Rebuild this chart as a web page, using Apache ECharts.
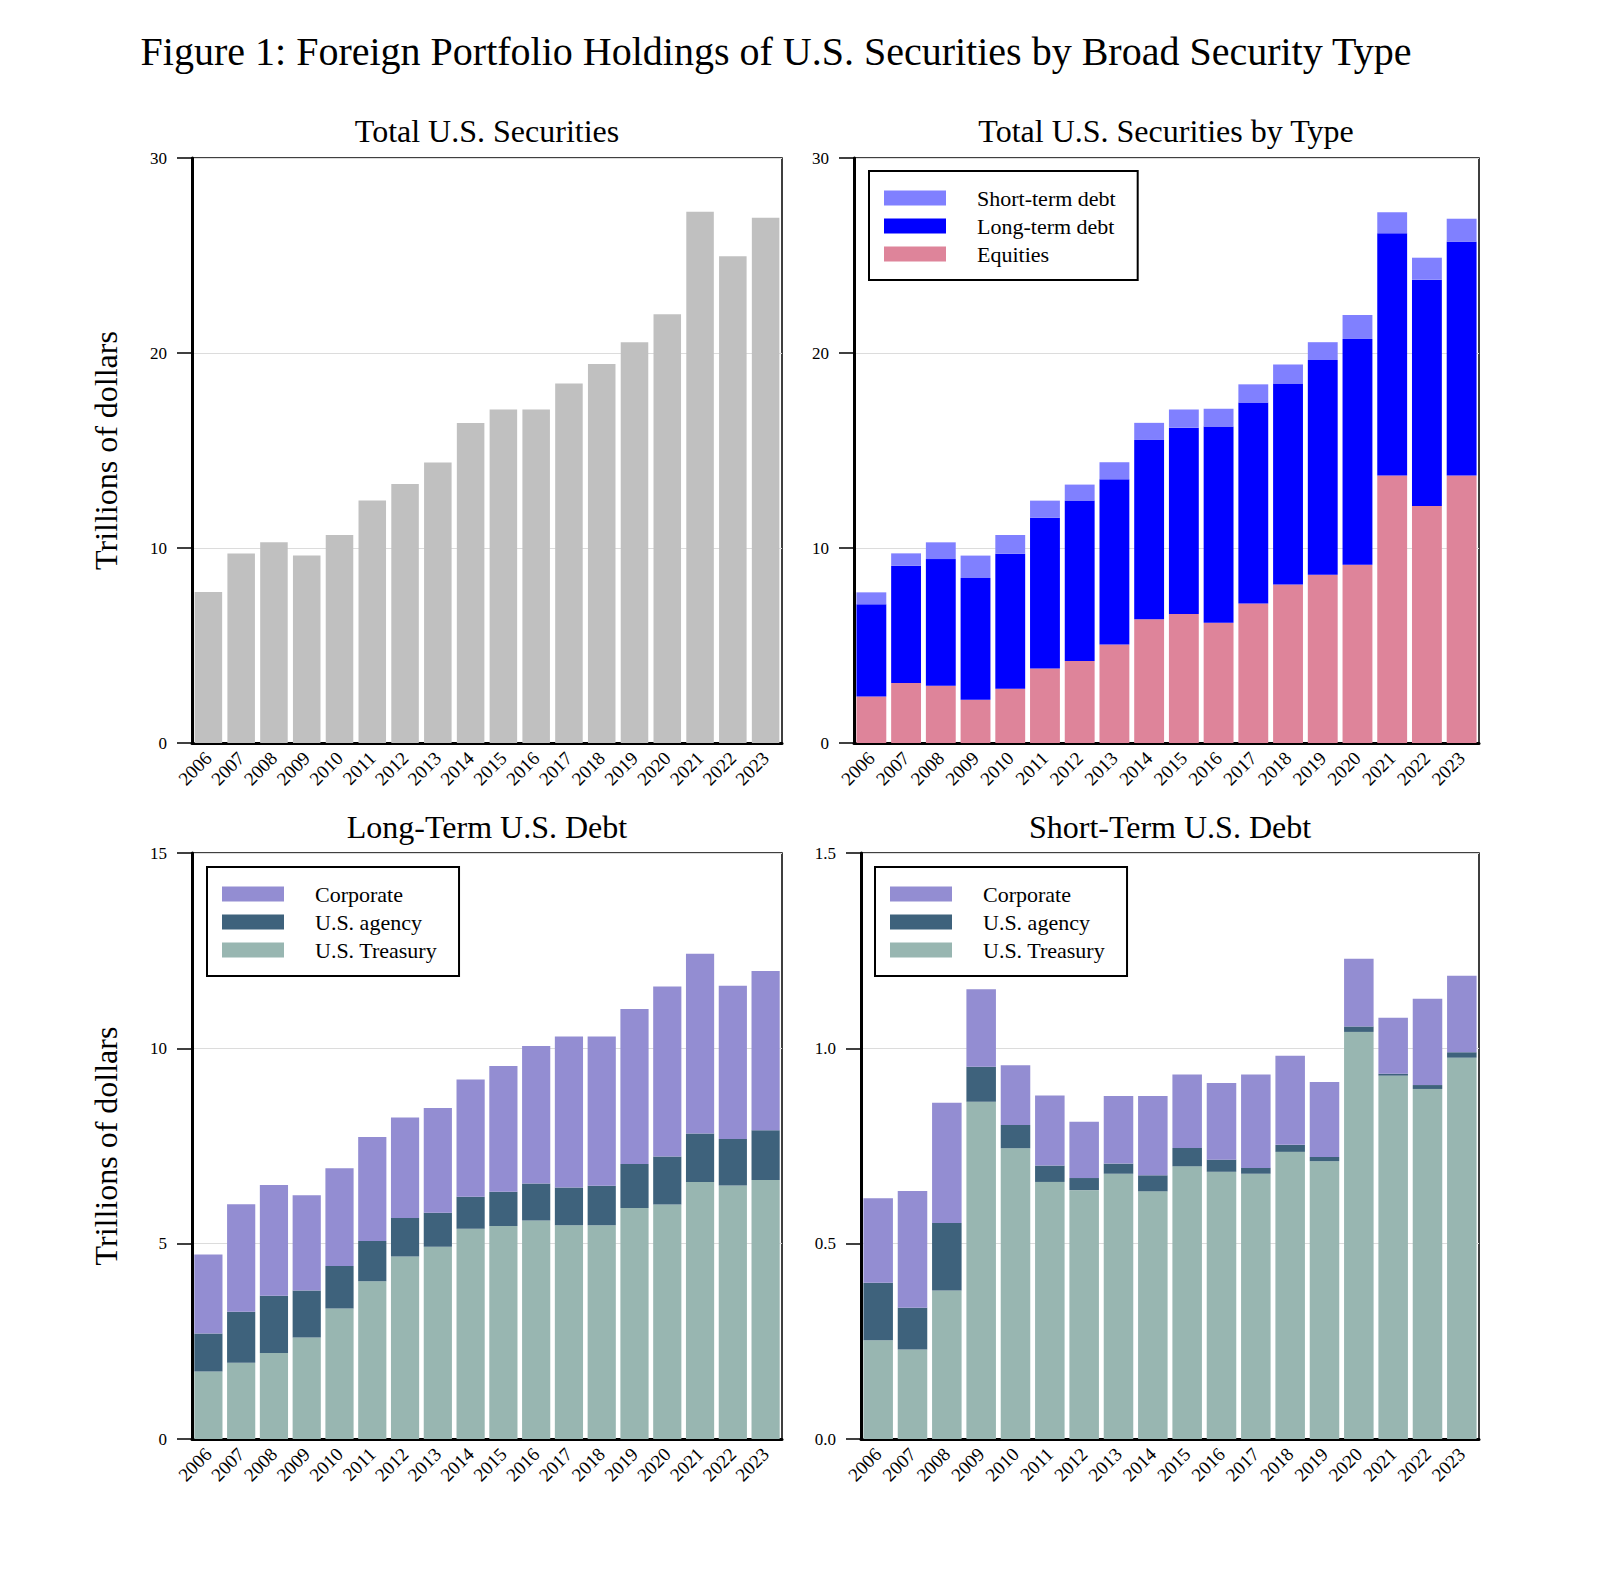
<!DOCTYPE html>
<html>
<head>
<meta charset="utf-8">
<script src="https://cdn.jsdelivr.net/npm/echarts@6/dist/echarts.min.js"></script>
<style>
html,body{margin:0;padding:0;background:#fff;}
#chart{width:1622px;height:1576px;}
</style>
</head>
<body>
<div id="chart"></div>
<script>
// ---------- data (trillions of dollars) ----------
const years = ['2006','2007','2008','2009','2010','2011','2012','2013','2014','2015','2016','2017','2018','2019','2020','2021','2022','2023'];

const totalHoldings = [7.75, 9.72, 10.30, 9.61, 10.67, 12.43, 13.28, 14.39, 16.41, 17.10, 17.10, 18.43, 19.44, 20.55, 21.99, 27.24, 24.96, 26.93];

const equities      = [2.39, 3.08, 2.93, 2.22, 2.78, 3.82, 4.21, 5.05, 6.34, 6.62, 6.17, 7.16, 8.13, 8.63, 9.14, 13.72, 12.16, 13.72];
const longTermDebt  = [4.72, 6.01, 6.50, 6.24, 6.93, 7.73, 8.23, 8.47, 9.20, 9.55, 10.06, 10.30, 10.30, 11.01, 11.58, 12.42, 11.60, 11.98];
const shortTermDebt = [0.616, 0.635, 0.861, 1.151, 0.957, 0.879, 0.812, 0.878, 0.878, 0.933, 0.911, 0.933, 0.981, 0.914, 1.229, 1.078, 1.127, 1.186];

const ltTreasury  = [1.73, 1.95, 2.20, 2.60, 3.34, 4.04, 4.67, 4.92, 5.38, 5.45, 5.59, 5.47, 5.47, 5.91, 6.00, 6.58, 6.49, 6.63];
const ltAgency    = [0.97, 1.31, 1.47, 1.20, 1.09, 1.03, 0.99, 0.87, 0.82, 0.88, 0.95, 0.97, 1.01, 1.13, 1.23, 1.24, 1.19, 1.27];
const ltCorporate = [2.02, 2.75, 2.83, 2.44, 2.50, 2.66, 2.57, 2.68, 3.00, 3.22, 3.52, 3.86, 3.82, 3.97, 4.35, 4.60, 3.92, 4.08];

const stTreasury  = [0.253, 0.229, 0.380, 0.863, 0.744, 0.658, 0.637, 0.679, 0.634, 0.698, 0.684, 0.679, 0.735, 0.711, 1.042, 0.930, 0.896, 0.976];
const stAgency    = [0.147, 0.107, 0.173, 0.090, 0.060, 0.042, 0.031, 0.026, 0.041, 0.047, 0.031, 0.015, 0.018, 0.011, 0.014, 0.005, 0.010, 0.014];
const stCorporate = [0.216, 0.299, 0.308, 0.198, 0.153, 0.179, 0.144, 0.173, 0.203, 0.188, 0.196, 0.239, 0.228, 0.192, 0.173, 0.143, 0.221, 0.196];

const mainTitle = 'Figure 1: Foreign Portfolio Holdings of U.S. Securities by Broad Security Type';
const panelTitles = ['Total U.S. Securities', 'Total U.S. Securities by Type', 'Long-Term U.S. Debt', 'Short-Term U.S. Debt'];
const yAxisTitle = 'Trillions of dollars';

// ---------- styling ----------
const SERIF = '"Liberation Serif", "Times New Roman", serif';
const C = {
  total: '#c0c0c0',
  shortTerm: '#8080ff',
  longTerm: '#0000ff',
  equities: '#de849a',
  corporate: '#938dd2',
  agency: '#3e627c',
  treasury: '#98b6b1'
};

const grids = [
  {left: 192, top: 158, width: 590, height: 585},
  {left: 854, top: 158, width: 625, height: 585},
  {left: 192, top: 853, width: 590, height: 586},
  {left: 861, top: 853, width: 618, height: 586}
];

function yAx(i, max, interval, withName, fmt) {
  return {
    type: 'value', gridIndex: i, min: 0, max: max, interval: interval,
    name: withName ? yAxisTitle : '',
    nameLocation: 'middle', nameGap: 70, nameRotate: 90,
    nameTextStyle: {fontFamily: SERIF, fontSize: 32, color: '#000'},
    axisLine: {show: true, lineStyle: {color: '#000', width: 3}},
    axisTick: {show: true, length: 15, lineStyle: {color: '#000', width: 1.5}},
    axisLabel: {fontFamily: SERIF, fontSize: 17, color: '#000', margin: 25,
      formatter: fmt || (v => String(v))},
    splitLine: {show: true, lineStyle: {color: '#dcdcdc', width: 1}}
  };
}
function xAx(i) {
  return {
    type: 'category', gridIndex: i, data: years, boundaryGap: true,
    axisLine: {show: true, lineStyle: {color: '#000', width: 3}},
    axisTick: {show: false},
    axisLabel: {fontFamily: SERIF, fontSize: 19, color: '#000', rotate: 45, interval: 0, margin: 12}
  };
}
function legendAt(left, top, names) {
  return {
    orient: 'vertical', left: left, top: top, data: names,
    icon: 'rect', itemWidth: 62, itemHeight: 15, itemGap: 6,
    borderColor: '#000', borderWidth: 2, padding: [16, 22, 15, 15],
    selectedMode: false,
    textStyle: {fontFamily: SERIF, fontSize: 22, color: '#000', lineHeight: 21, padding: [0, 0, 0, 26]}
  };
}
function bar(name, i, data, color, stack, gap) {
  return {
    type: 'bar', name: name, xAxisIndex: i, yAxisIndex: i, data: data,
    stack: stack, barCategoryGap: gap || '14%',
    itemStyle: {color: color}
  };
}

const titleCenters = [[487, 132], [1166, 132], [487, 828], [1170, 828]];

const option = {
  animation: false,
  backgroundColor: '#fff',
  title: [
    {text: mainTitle, left: 776, top: 31, textAlign: 'center', padding: 0,
     textStyle: {fontFamily: SERIF, fontSize: 40, fontWeight: 'normal', color: '#000'}}
  ].concat(panelTitles.map((t, k) => ({
    text: t, left: titleCenters[k][0], top: titleCenters[k][1] - 17, textAlign: 'center', padding: 0,
    textStyle: {fontFamily: SERIF, fontSize: 32, fontWeight: 'normal', color: '#000'}
  }))),
  grid: grids.map(g => Object.assign({show: true, borderColor: '#000', borderWidth: 1.5, backgroundColor: 'transparent'}, g)),
  xAxis: [xAx(0), xAx(1), xAx(2), xAx(3)],
  yAxis: [
    yAx(0, 30, 10, true),
    yAx(1, 30, 10, false),
    yAx(2, 15, 5, true),
    yAx(3, 1.5, 0.5, false, v => v.toFixed(1))
  ],
  legend: [
    legendAt(869, 171, ['Short-term debt', 'Long-term debt', 'Equities']),
    legendAt(207, 867, ['Corporate', 'U.S. agency', 'U.S. Treasury']),
    legendAt(875, 867, ['Corporate', 'U.S. agency', 'U.S. Treasury'])
  ],
  series: [
    bar('Total', 0, totalHoldings, C.total, null, '16%'),
    bar('Equities', 1, equities, C.equities, 'type'),
    bar('Long-term debt', 1, longTermDebt, C.longTerm, 'type'),
    bar('Short-term debt', 1, shortTermDebt, C.shortTerm, 'type'),
    bar('U.S. Treasury', 2, ltTreasury, C.treasury, 'lt'),
    bar('U.S. agency', 2, ltAgency, C.agency, 'lt'),
    bar('Corporate', 2, ltCorporate, C.corporate, 'lt'),
    bar('U.S. Treasury', 3, stTreasury, C.treasury, 'st'),
    bar('U.S. agency', 3, stAgency, C.agency, 'st'),
    bar('Corporate', 3, stCorporate, C.corporate, 'st')
  ]
};

const chart = echarts.init(document.getElementById('chart'), null, {renderer: 'svg', width: 1622, height: 1576});
chart.setOption(option);
</script>
</body>
</html>
